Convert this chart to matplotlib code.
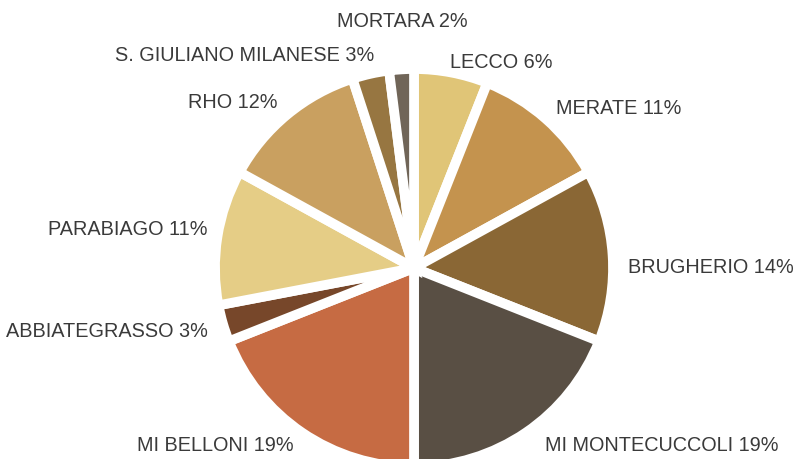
import matplotlib.pyplot as plt

# dati: quota per sede
labels = ['LECCO', 'MERATE', 'BRUGHERIO', 'MI MONTECUCCOLI', 'MI BELLONI',
          'ABBIATEGRASSO', 'PARABIAGO', 'RHO', 'S. GIULIANO MILANESE', 'MORTARA']
values = [6, 11, 14, 19, 19, 3, 11, 12, 3, 2]
colors = ['#E0C577', '#C4934E', '#8A6735', '#594F44', '#C66B43',
          '#77472A', '#E5CD86', '#C9A060', '#977641', '#706558']

fig = plt.figure(figsize=(7.93, 4.59), dpi=100)
r = 199  # raggio in pixel
ax = fig.add_axes([(414 - 1.25 * r) / 793, (191 - 1.25 * r) / 459,
                   2.5 * r / 793, 2.5 * r / 459])

texts = [f'{l} {v}%' for l, v in zip(labels, values)]
wedges, lbls = ax.pie(values, labels=texts, colors=colors, startangle=90,
                      counterclock=False, labeldistance=1.08,
                      wedgeprops=dict(edgecolor='white', linewidth=7),
                      textprops=dict(fontsize=14.3, color='#3a3a3a',
                                     family='Liberation Sans'))
ax.set_xlim(-1.25, 1.25)
ax.set_ylim(-1.25, 1.25)

# piccoli spostamenti delle etichette
nudge = {'LECCO': (-0.02, -0.03), 'BRUGHERIO': (0, -0.065),
         'MI MONTECUCCOLI': (0.05, 0), 'PARABIAGO': (0.03, 0.025),
         'S. GIULIANO MILANESE': (0.035, 0.015), 'ABBIATEGRASSO': (0, -0.02),
         'MERATE': (0, -0.01)}
for name, t in zip(labels, lbls):
    if name in nudge:
        x, y = t.get_position()
        t.set_position((x + nudge[name][0], y + nudge[name][1]))

# MORTARA sopra, centrata
lbls[-1].set_position((-0.06, 1.24))
lbls[-1].set_ha('center')

fig.savefig('out.png', dpi=100)
